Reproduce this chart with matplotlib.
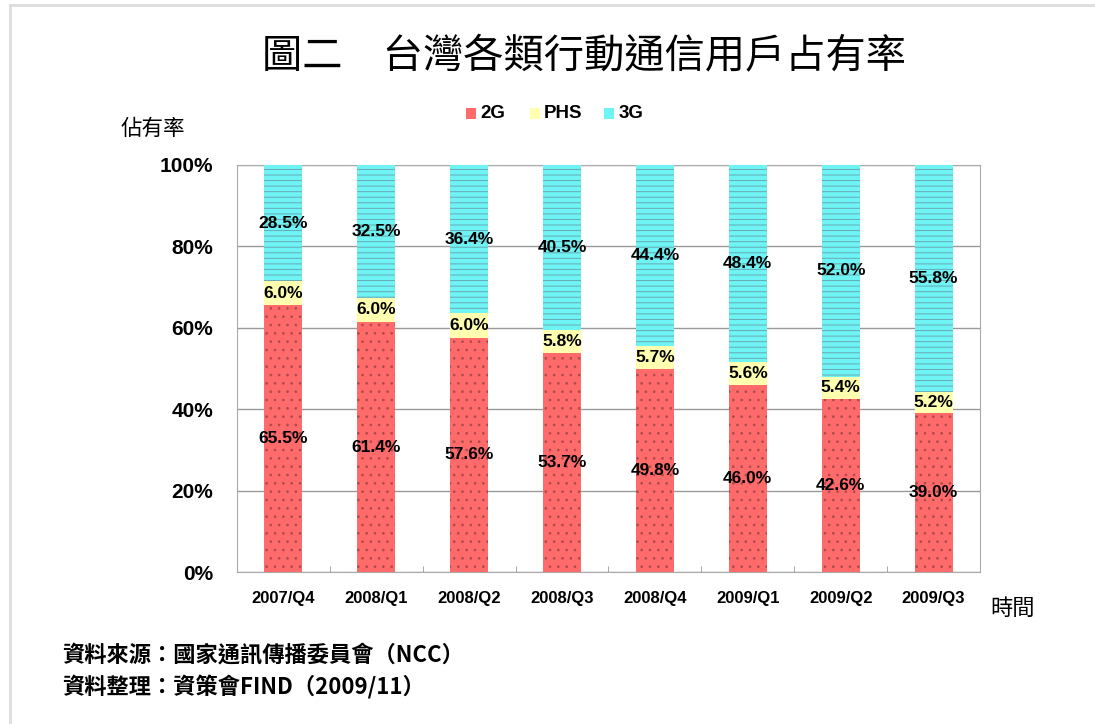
import matplotlib
matplotlib.use("Agg")
import matplotlib.pyplot as plt
import matplotlib.lines as lines
import numpy as np

CJK = ['Noto Sans CJK TC', 'DejaVu Sans']
LAT = ['Liberation Sans', 'DejaVu Sans']

quarters = ['2007/Q4', '2008/Q1', '2008/Q2', '2008/Q3',
            '2008/Q4', '2009/Q1', '2009/Q2', '2009/Q3']
share_2g = [65.5, 61.4, 57.6, 53.7, 49.8, 46.0, 42.6, 39.0]
share_phs = [6.0, 6.0, 6.0, 5.8, 5.7, 5.6, 5.4, 5.2]
share_3g = [28.5, 32.5, 36.4, 40.5, 44.4, 48.4, 52.0, 55.8]
y_ticks = [0, 20, 40, 60, 80, 100]

plt.rcParams['font.family'] = CJK
plt.rcParams['hatch.linewidth'] = 0.7

fig = plt.figure(figsize=(10.95, 7.24), dpi=100)
ax = fig.add_axes([0.2164, 0.2099, 0.6786, 0.5622])

x = np.arange(len(quarters))
w = 0.41
s2 = np.array(share_2g)
sp = np.array(share_phs)
s3 = np.array(share_3g)

ax.bar(x, s2, w, color='#ff6b6b', edgecolor='#b04a4a', hatch='..', lw=0, zorder=3)
ax.bar(x, sp, w, bottom=s2, color='#ffffb0', edgecolor='#ffffb0', lw=0, zorder=3)
ax.bar(x, s3, w, bottom=s2 + sp, color='#6ef4f4', edgecolor='#6aa8b4', hatch='---', lw=0, zorder=3)

# value labels at segment centres
for i in range(len(quarters)):
    for bot, val in ((0, s2[i]), (s2[i], sp[i]), (s2[i] + sp[i], s3[i])):
        ax.text(x[i], bot + val / 2, f'{val:.1f}%', ha='center', va='center',
                fontsize=12.5, fontweight='bold', family=LAT, zorder=4)

ax.set_xlim(-0.5, len(quarters) - 0.5)
ax.set_ylim(0, 100)
ax.set_yticks(y_ticks)
ax.set_yticklabels([f'{t}%' for t in y_ticks], fontsize=15, fontweight='bold', family=LAT)
ax.tick_params(axis='y', length=0, pad=17)
ax.set_xticks(x)
ax.set_xticklabels(quarters, fontsize=12, fontweight='bold', family=LAT)
ax.set_xticks(np.arange(len(quarters) + 1) - 0.5, minor=True)
ax.tick_params(axis='x', which='major', length=0, pad=14)
ax.tick_params(axis='x', which='minor', length=4, direction='in', color='#999999')
ax.grid(axis='y', color='#999999', lw=1, zorder=0)
for sp_ in ax.spines.values():
    sp_.set_color('#aaaaaa')

fig.text(0.533, 0.921, '圖二\u3000台灣各類行動通信用戶占有率', ha='center', va='center',
         fontsize=29)

# legend
legend_items = [('2G', '#ff6b6b', 0.4256), ('PHS', '#ffffb0', 0.484), ('3G', '#6ef4f4', 0.5516)]
for name, col, lx in legend_items:
    fig.patches.append(plt.Rectangle((lx, 0.835), 0.009, 0.016, transform=fig.transFigure,
                                     facecolor=col, edgecolor='none'))
    fig.text(lx + 0.013, 0.843, name, ha='left', va='center', fontsize=13.5,
             fontweight='bold', family=LAT)

fig.text(0.110, 0.822, '佔有率', ha='left', va='center', fontsize=15.5)
fig.text(0.904, 0.160, '時間', ha='left', va='center', fontsize=16)
fig.text(0.057, 0.096, '資料來源：國家通訊傳播委員會（NCC）', ha='left', va='center',
         fontsize=16, fontweight='bold')
fig.text(0.057, 0.050, '資料整理：資策會FIND（2009/11）', ha='left', va='center',
         fontsize=16, fontweight='bold')

# light frame on left and top
fig.add_artist(lines.Line2D([0.009, 0.009], [0.0, 0.993], color='#dddddd', lw=2,
                            transform=fig.transFigure))
fig.add_artist(lines.Line2D([0.009, 1.0], [0.993, 0.993], color='#dddddd', lw=2,
                            transform=fig.transFigure))

fig.savefig('out.png', dpi=100)
